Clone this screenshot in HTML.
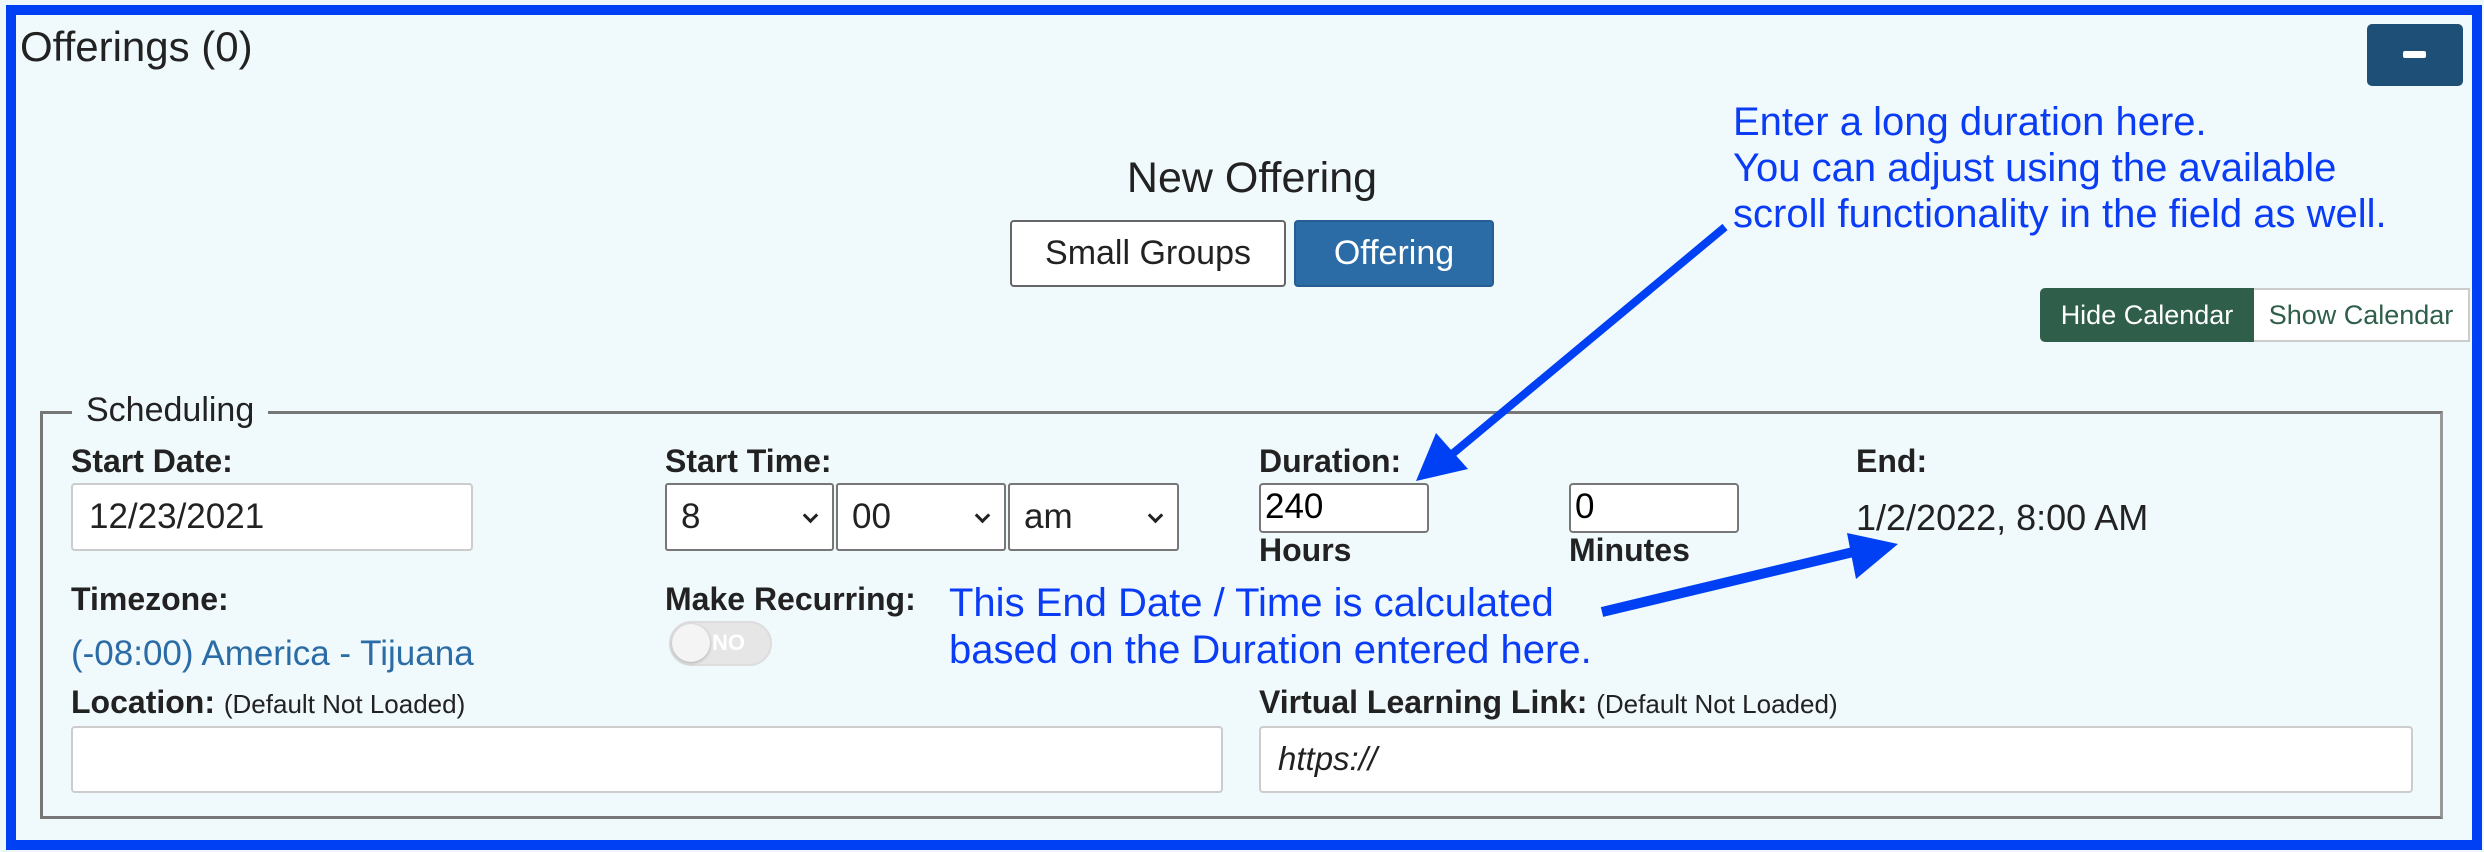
<!DOCTYPE html>
<html><head><meta charset="utf-8"><style>
*{margin:0;padding:0;box-sizing:border-box}
body{width:2484px;height:852px;background:#eef7fa;position:relative;overflow:hidden;font-family:"Liberation Sans",sans-serif;color:#222}
.a{position:absolute;white-space:nowrap}
.frame{position:absolute;left:6px;top:5px;width:2476px;height:845px;border:10px solid #0040f5;background:#f0f9fc}
.lbl{font-weight:bold;font-size:32px}
.inp{position:absolute;background:#fff;border:2px solid #ccc;border-radius:4px}
.sel{position:absolute;background:#fff;border:2px solid #777;border-radius:3px;font-size:35px;padding:12px 0 0 14px}
.sel:after{content:"";position:absolute;right:16px;top:25px;width:8px;height:8px;border-right:3px solid #222;border-bottom:3px solid #222;transform:rotate(45deg)}
.note{color:#0a3cf5;font-size:40px}
.sm{font-weight:normal;font-size:26px}
</style></head><body>
<div class="frame"></div>
<div class="a" style="left:20px;top:23px;font-size:42px">Offerings (0)</div>
<div class="a" style="left:2367px;top:24px;width:96px;height:62px;background:#1d4f77;border-radius:5px"></div>
<div class="a" style="left:2403px;top:51px;width:23px;height:7px;background:#fff;border-radius:2px"></div>
<div class="a" style="left:1010px;top:154px;width:484px;text-align:center;font-size:43px">New Offering</div>
<div class="a" style="left:1010px;top:220px;width:276px;height:67px;background:#fff;border:2px solid #666;border-radius:4px;font-size:34px;text-align:center;line-height:62px">Small Groups</div>
<div class="a" style="left:1294px;top:220px;width:200px;height:67px;background:#2b6ca6;border:2px solid #245e92;border-radius:4px;font-size:34px;color:#fff;text-align:center;line-height:62px">Offering</div>
<div class="a" style="left:2040px;top:288px;width:214px;height:54px;background:#2f5e4a;border-radius:5px 0 0 5px;color:#fff;font-size:27px;text-align:center;line-height:54px">Hide Calendar</div>
<div class="a" style="left:2254px;top:288px;width:216px;height:54px;background:#fff;border:2px solid #ccc;border-left:none;color:#2f5e4a;font-size:27px;text-align:center;line-height:50px">Show Calendar</div>
<div class="a" style="left:40px;top:411px;width:2403px;height:408px;border:3px solid #777;border-right-color:#999"></div>
<div class="a" style="left:72px;top:391px;padding:0 14px;background:#f0f9fc;font-size:34px">Scheduling</div>
<div class="a lbl" style="left:71px;top:443px">Start Date:</div>
<div class="inp" style="left:71px;top:483px;width:402px;height:68px"></div>
<div class="a" style="left:89px;top:497px;font-size:35px">12/23/2021</div>
<div class="a lbl" style="left:665px;top:443px">Start Time:</div>
<div class="sel" style="left:665px;top:483px;width:169px;height:68px">8</div>
<div class="sel" style="left:836px;top:483px;width:170px;height:68px">00</div>
<div class="sel" style="left:1008px;top:483px;width:171px;height:68px">am</div>
<div class="a lbl" style="left:71px;top:581px">Timezone:</div>
<div class="a" style="left:71px;top:634px;font-size:35px;color:#2b6ca6">(-08:00) America - Tijuana</div>
<div class="a lbl" style="left:665px;top:581px">Make Recurring:</div>
<div class="a" style="left:669px;top:621px;width:103px;height:45px;background:#e6e6e6;border-radius:23px;border:2px solid #ddd"></div>
<div class="a" style="left:672px;top:624px;width:38px;height:38px;background:#f4f4f4;border-radius:50%;box-shadow:0 1px 3px #aaa"></div>
<div class="a" style="left:712px;top:630px;font-size:22px;color:#fff;font-weight:bold">NO</div>
<div class="a lbl" style="left:71px;top:684px">Location: <span class="sm">(Default Not Loaded)</span></div>
<div class="inp" style="left:71px;top:726px;width:1152px;height:67px"></div>
<div class="a lbl" style="left:1259px;top:443px">Duration:</div>
<div class="inp" style="left:1259px;top:483px;width:170px;height:50px;border-color:#777"></div>
<div class="a" style="left:1265px;top:487px;font-size:35px;color:#000">240</div>
<div class="a lbl" style="left:1259px;top:532px">Hours</div>
<div class="inp" style="left:1569px;top:483px;width:170px;height:50px;border-color:#777"></div>
<div class="a" style="left:1575px;top:487px;font-size:35px;color:#000">0</div>
<div class="a lbl" style="left:1569px;top:532px">Minutes</div>
<div class="a lbl" style="left:1856px;top:443px">End:</div>
<div class="a" style="left:1856px;top:497px;font-size:36px">1/2/2022, 8:00 AM</div>
<div class="a lbl" style="left:1259px;top:684px">Virtual Learning Link: <span class="sm">(Default Not Loaded)</span></div>
<div class="inp" style="left:1259px;top:726px;width:1154px;height:67px"></div>
<div class="a" style="left:1278px;top:740px;font-size:33px;font-style:italic">https://</div>
<div class="a note" style="left:1733px;top:99px;line-height:46px">Enter a long duration here.<br>You can adjust using the available<br>scroll functionality in the field as well.</div>
<div class="a note" style="left:949px;top:580px;line-height:47px">This End Date / Time is calculated<br>based on the Duration entered here.</div>
<svg class="a" style="left:0;top:0" width="2484" height="852">
<line x1="1725" y1="227" x2="1445" y2="460" stroke="#0040f5" stroke-width="8"/>
<polygon points="1416,481 1436,433 1468,469" fill="#0040f5"/>
<line x1="1602" y1="612" x2="1870" y2="548" stroke="#0040f5" stroke-width="10"/>
<polygon points="1847,533 1898,544 1856,579" fill="#0040f5"/>
</svg>
</body></html>
